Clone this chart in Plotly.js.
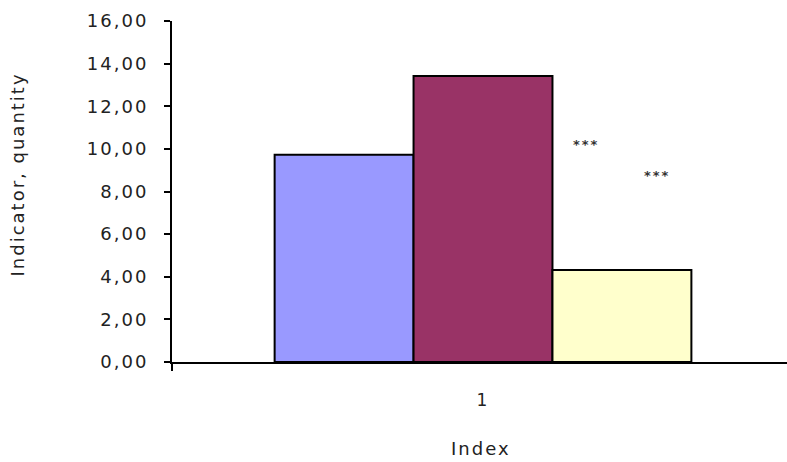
<!DOCTYPE html>
<html>
<head>
<meta charset="utf-8">
<script src="https://cdn.plot.ly/plotly-3.0.1.min.js"></script>
<style>
html,body{margin:0;padding:0;background:#fff;}
#chart text{letter-spacing:2px;}
</style>
</head>
<body>
<div id="chart" style="width:787px;height:462px;"></div>
<script>
const categories = ['1'];
const seriesNames = ['Group A', 'Group B', 'Group C'];
const seriesValues = [[9.72], [13.42], [4.32]];
const seriesColors = ['#9999FF', '#993366', '#FFFFCC'];
const yTickValues = [0, 2, 4, 6, 8, 10, 12, 14, 16];
const yTickLabels = ['0,00', '2,00', '4,00', '6,00', '8,00', '10,00', '12,00', '14,00', '16,00'];
const markLabels = ['***', '***'];
const markX = [0.167, 0.281];
const markY = [10.2, 8.75];

const xPos = categories.map((c, i) => i);
const traces = seriesNames.map((name, i) => ({
  type: 'bar',
  name: name,
  x: xPos,
  y: seriesValues[i],
  marker: {color: seriesColors[i], line: {color: '#000', width: 2}},
  hoverinfo: 'y'
}));

const fontFam = 'DejaVu Sans, sans-serif';
const layout = {
  width: 787, height: 462,
  margin: {l: 172, r: 0, t: 21, b: 100},
  paper_bgcolor: '#fff', plot_bgcolor: '#fff',
  showlegend: false,
  barmode: 'group',
  bargap: 0.33,
  bargroupgap: 0,
  font: {family: fontFam, color: '#222', size: 16},
  xaxis: {
    range: [-0.5, 0.4887],
    tickmode: 'array', tickvals: xPos, ticktext: categories,
    ticks: '', showgrid: false, zeroline: false,
    showline: true, linecolor: '#000', linewidth: 2,
    ticklabelstandoff: 22,
    minor: {tickmode: 'array', tickvals: [-0.5], ticks: 'outside', ticklen: 7, tickwidth: 2, tickcolor: '#000', showgrid: false},
    tickfont: {family: fontFam, size: 17, color: '#222'}
  },
  yaxis: {
    range: [0, 16],
    tickmode: 'array', tickvals: yTickValues, ticktext: yTickLabels,
    ticks: 'outside', ticklen: 6, tickwidth: 2, tickcolor: '#000',
    showgrid: false, zeroline: false,
    showline: true, linecolor: '#000', linewidth: 2,
    ticklabelstandoff: 12,
    tickfont: {family: fontFam, size: 18, color: '#222'}
  },
  annotations: [
    {text: 'Index', xref: 'paper', yref: 'paper', x: 0.503, y: -0.255, yanchor: 'middle', xanchor: 'center', showarrow: false, font: {family: fontFam, size: 18, color: '#222'}},
    {text: 'Indicator, quantity', xref: 'paper', yref: 'paper', x: -0.252, y: 0.55, textangle: -90, xanchor: 'center', yanchor: 'middle', showarrow: false, font: {family: fontFam, size: 18, color: '#222'}}
  ].concat(markLabels.map((t, i) => ({
    text: '<b>' + t + '</b>', x: markX[i], y: markY[i], xref: 'x', yref: 'y',
    showarrow: false, font: {family: fontFam, size: 13, color: '#333'}
  })))
};

Plotly.newPlot('chart', traces, layout, {displayModeBar: false, staticPlot: true});
</script>
</body>
</html>
